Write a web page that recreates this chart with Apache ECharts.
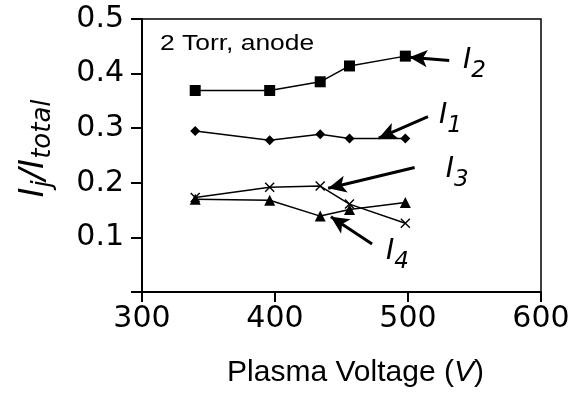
<!DOCTYPE html>
<html>
<head>
<meta charset="utf-8">
<script src="https://cdn.jsdelivr.net/npm/echarts@6/dist/echarts.min.js"></script>
<style>
  html, body { margin: 0; padding: 0; background: #fff; }
  #chart { width: 579px; height: 393px; }
</style>
</head>
<body>
<div id="chart"></div>
<script>
// plasma voltage (V) for each measured point
const voltages = [340, 396, 434, 456, 498];
// fraction of total current, per species
const i1 = [0.295, 0.278, 0.289, 0.281, 0.281];
const i2 = [0.369, 0.369, 0.385, 0.414, 0.432];
const i3 = [0.173, 0.192, 0.194, 0.161, 0.126];
const i4 = [0.170, 0.168, 0.139, 0.151, 0.164];
const yTicks = [0.1, 0.2, 0.3, 0.4, 0.5];

// annotation arrows: [from, to] in data units, and label anchor
const arrows = {
  I1: { from: [515, 0.321], to: [478, 0.282], label: [532, 0.322], sub: '1' },
  I2: { from: [531, 0.424], to: [501, 0.430], label: [550, 0.423], sub: '2' },
  I3: { from: [505, 0.228], to: [440, 0.190], label: [537, 0.224], sub: '3' },
  I4: { from: [473, 0.088], to: [442, 0.138], label: [492, 0.074], sub: '4' }
};

const WIDE = '"DejaVu Sans", Verdana, sans-serif';
const NARROW = '"Liberation Sans", Arial, Helvetica, sans-serif';
const crossPath = 'path://M0,1L1,0L5,4L9,0L10,1L6,5L10,9L9,10L5,6L1,10L0,9L4,5Z';

function pairs(ys) {
  return voltages.map((v, k) => [v, ys[k]]);
}

function note(key) {
  const a = arrows[key];
  return {
    markLine: {
      silent: true,
      symbol: ['none', 'arrow'],
      symbolSize: [13, 18],
      label: { show: false },
      lineStyle: { color: '#000', width: 3, type: 'solid' },
      emphasis: { disabled: true },
      data: [[{ coord: a.from }, { coord: a.to }]]
    },
    markPoint: {
      silent: true,
      symbol: 'circle',
      symbolSize: 0,
      data: [{ coord: a.label }],
      label: {
        show: true,
        position: 'inside',
        formatter: '{i|I}{s|' + a.sub + '}',
        rich: {
          i: { fontFamily: WIDE, fontStyle: 'italic', fontSize: 28, color: '#000' },
          s: { fontFamily: WIDE, fontStyle: 'italic', fontSize: 23, color: '#000', padding: [20, 0, 0, 0] }
        }
      }
    }
  };
}

function line(name, ys, symbol, size, key) {
  return Object.assign({
    name: name,
    type: 'line',
    data: pairs(ys),
    symbol: symbol,
    symbolSize: size,
    showAllSymbol: true,
    lineStyle: { color: '#000', width: 1.5 },
    itemStyle: { color: '#000' },
    animation: false
  }, note(key));
}

const chart = echarts.init(document.getElementById('chart'));
chart.setOption({
  backgroundColor: '#fff',
  animation: false,
  grid: {
    left: 142, right: 38, top: 19, bottom: 96,
    show: true, borderColor: '#000', borderWidth: 1.5
  },
  xAxis: {
    type: 'value',
    min: 300, max: 600, interval: 100,
    name: 'Plasma Voltage ({v|V})',
    nameLocation: 'middle',
    nameGap: 66,
    nameTextStyle: {
      fontFamily: NARROW, fontSize: 30, color: '#000',
      padding: [0, 0, 0, 28],
      rich: { v: { fontFamily: NARROW, fontSize: 30, fontStyle: 'italic', color: '#000' } }
    },
    axisLine: { onZero: false, lineStyle: { color: '#000', width: 2 } },
    axisTick: { inside: false, length: 10, lineStyle: { color: '#000', width: 2 } },
    axisLabel: { fontFamily: WIDE, fontSize: 30, color: '#000', margin: 12 },
    splitLine: { show: false }
  },
  yAxis: {
    type: 'value',
    min: 0, max: 0.5, interval: 0.1,
    name: '{i|I}{s|j}{i|/I}{s|total}',
    nameLocation: 'middle',
    nameRotate: 90,
    nameGap: 86,
    nameTextStyle: {
      padding: [0, 0, 0, 14],
      rich: {
        i: { fontFamily: WIDE, fontStyle: 'italic', fontSize: 34, color: '#000' },
        s: { fontFamily: WIDE, fontStyle: 'italic', fontSize: 26, color: '#000', padding: [18, 0, 0, 0] }
      }
    },
    axisLine: { lineStyle: { color: '#000', width: 2 } },
    axisTick: { inside: false, length: 11, lineStyle: { color: '#000', width: 2 } },
    axisLabel: {
      fontFamily: WIDE, fontSize: 30, color: '#000', margin: 18,
      formatter: v => (yTicks.some(t => Math.abs(t - v) < 1e-9) ? v.toFixed(1) : '')
    },
    splitLine: { show: false }
  },
  graphic: [{
    type: 'text',
    x: 160, y: 33,
    scaleX: 1.2,
    style: { text: '2 Torr, anode', fontFamily: NARROW, fontSize: 22, fill: '#000' }
  }],
  series: [
    line('I1', i1, 'diamond', 10, 'I1'),
    line('I2', i2, 'rect', 11, 'I2'),
    line('I3', i3, crossPath, 10, 'I3'),
    line('I4', i4, 'triangle', 11, 'I4')
  ]
});
</script>
</body>
</html>
